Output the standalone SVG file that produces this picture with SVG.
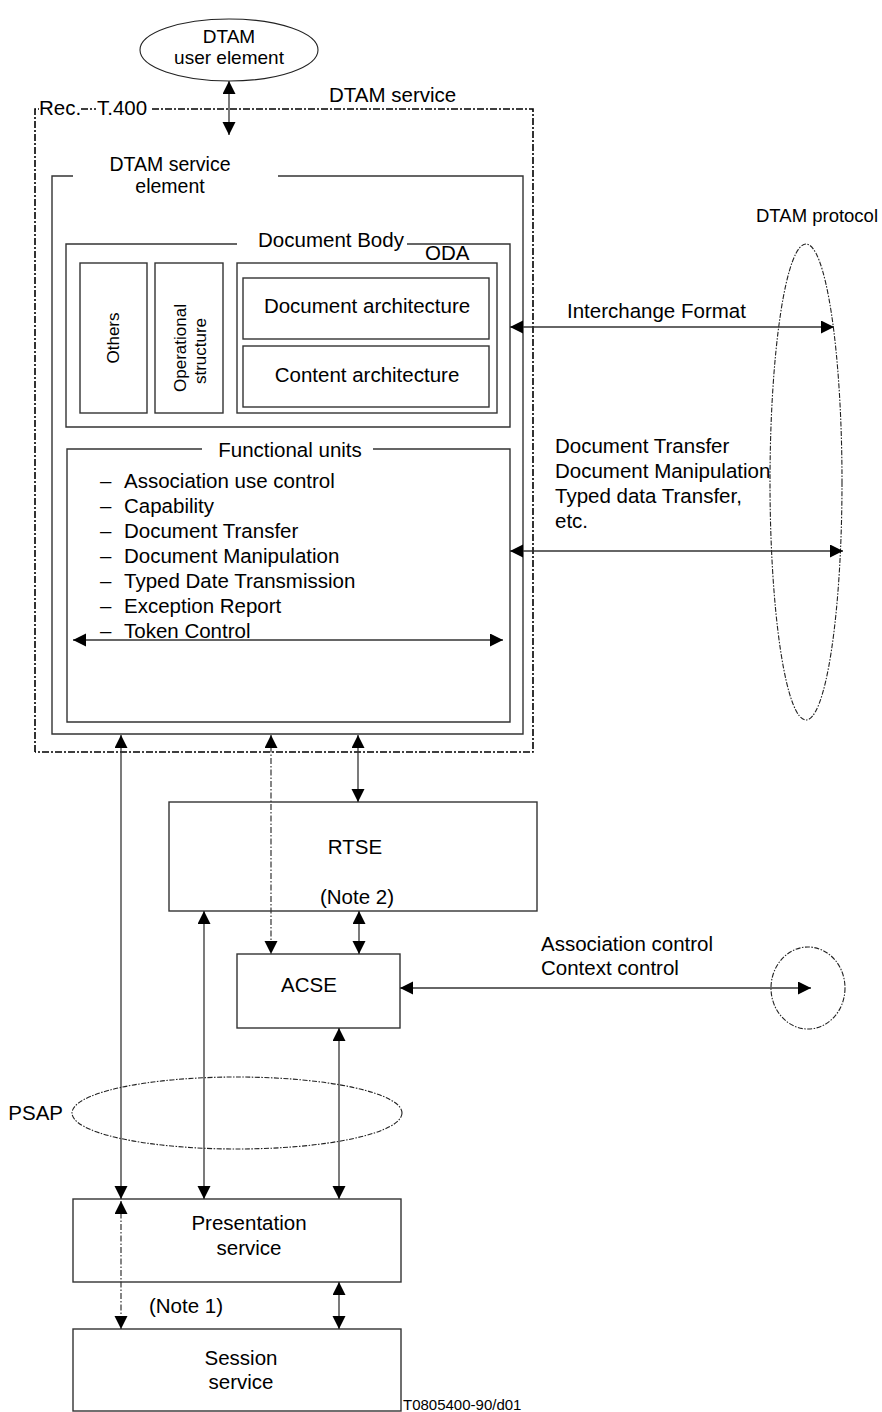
<svg xmlns="http://www.w3.org/2000/svg" width="882" height="1412" viewBox="0 0 882 1412">
<style>
text{font-family:"Liberation Sans",Arial,sans-serif;font-size:20.5px;fill:#000}
.c{text-anchor:middle}
.box{fill:none;stroke:#333;stroke-width:1.4}
.dd{fill:none;stroke:#000;stroke-width:1.6;stroke-dasharray:7 2 2 2}
.de{fill:none;stroke:#222;stroke-width:1.1;stroke-dasharray:5 1.5 1.5 1.5}
.ar{fill:none;stroke:#333;stroke-width:1.3;marker-start:url(#ah);marker-end:url(#ah)}
.ad{fill:none;stroke:#333;stroke-width:1.2;stroke-dasharray:6 2 1.5 2;marker-start:url(#ah);marker-end:url(#ah)}
</style>
<defs>
<marker id="ah" markerUnits="userSpaceOnUse" markerWidth="14" markerHeight="14" refX="13" refY="6.5" orient="auto-start-reverse">
<path d="M0,0 L13,6.5 L0,13 z" fill="#000"/>
</marker>
</defs>
<rect width="882" height="1412" fill="#fff"/>

<g id="user-element">
<ellipse cx="229" cy="50" rx="89" ry="31" fill="none" stroke="#222" stroke-width="1.1"/>
<text x="229" y="43" class="c" style="font-size:19px">DTAM</text>
<text x="229" y="64" class="c" style="font-size:19px">user element</text>
</g>

<g id="rec-t400">
<path class="dd" d="M35,752 V109 H39 M81,109 H96 M152,109 H533 V752 H35"/>
<text x="39" y="115">Rec.</text>
<text x="97" y="115">T.400</text>
<text x="329" y="102">DTAM service</text>
</g>

<g id="service-element">
<path class="box" d="M73,176 H52 V734 H523 V176 H278"/>
<text x="170" y="171" class="c" style="font-size:19.5px">DTAM service</text>
<text x="170" y="193" class="c" style="font-size:19.5px">element</text>
</g>

<g id="document-body">
<path class="box" d="M237,244 H66 V427 H510 V244 H407"/>
<text x="331" y="247" class="c">Document Body</text>
<text x="425" y="260">ODA</text>
</g>

<g id="others">
<rect class="box" x="80" y="263" width="67" height="150"/>
<text transform="translate(119,338) rotate(-90)" class="c" style="font-size:17px">Others</text>
</g>

<g id="operational-structure">
<rect class="box" x="155" y="263" width="68" height="150"/>
<text transform="translate(186,348) rotate(-90)" class="c" style="font-size:17px">Operational</text>
<text transform="translate(206,351) rotate(-90)" class="c" style="font-size:17px">structure</text>
</g>

<g id="oda">
<rect class="box" x="237" y="263" width="260" height="150"/>
</g>

<g id="document-architecture">
<rect class="box" x="243" y="278" width="246" height="61"/>
<text x="367" y="313" class="c">Document architecture</text>
</g>

<g id="content-architecture">
<rect class="box" x="243" y="346" width="246" height="61"/>
<text x="367" y="382" class="c">Content architecture</text>
</g>

<g id="functional-units">
<path class="box" d="M202,449 H67 V722 H510 V449 H373"/>
<text x="290" y="457" class="c">Functional units</text>
<text x="100" y="488">–</text><text x="124" y="488">Association use control</text>
<text x="100" y="513">–</text><text x="124" y="513">Capability</text>
<text x="100" y="538">–</text><text x="124" y="538">Document Transfer</text>
<text x="100" y="563">–</text><text x="124" y="563">Document Manipulation</text>
<text x="100" y="588">–</text><text x="124" y="588">Typed Date Transmission</text>
<text x="100" y="613">–</text><text x="124" y="613">Exception Report</text>
<text x="100" y="638">–</text><text x="124" y="638">Token Control</text>
</g>

<g id="dtam-protocol">
<ellipse class="de" cx="806" cy="482" rx="36" ry="238"/>
<text x="878" y="222" style="text-anchor:end;font-size:18.5px">DTAM protocol</text>
<text x="567" y="318">Interchange Format</text>
<text x="555" y="453">Document Transfer</text>
<text x="555" y="478">Document Manipulation</text>
<text x="555" y="503">Typed data Transfer,</text>
<text x="555" y="528">etc.</text>
</g>

<g id="rtse">
<rect class="box" x="169" y="802" width="368" height="109"/>
<text x="355" y="854" class="c">RTSE</text>
<text x="357" y="904" class="c">(Note 2)</text>
</g>

<g id="acse">
<rect class="box" x="237" y="954" width="163" height="74"/>
<text x="309" y="992" class="c">ACSE</text>
</g>

<g id="acse-protocol">
<ellipse class="de" cx="808" cy="988" rx="37" ry="41"/>
<text x="541" y="951">Association control</text>
<text x="541" y="975">Context control</text>
</g>

<g id="psap">
<ellipse class="de" cx="237" cy="1113" rx="165" ry="36"/>
<text x="63" y="1120" style="text-anchor:end">PSAP</text>
</g>

<g id="presentation">
<rect class="box" x="73" y="1199" width="328" height="83"/>
<text x="249" y="1230" class="c">Presentation</text>
<text x="249" y="1255" class="c">service</text>
</g>

<g id="session">
<rect class="box" x="73" y="1329" width="328" height="82"/>
<text x="241" y="1365" class="c">Session</text>
<text x="241" y="1389" class="c">service</text>
</g>

<text x="186" y="1313" class="c">(Note 1)</text>
<text x="403" y="1410" style="font-size:15px">T0805400-90/d01</text>

<g id="connectors">
<line class="ar" x1="229" y1="81" x2="229" y2="135"/>
<line class="ar" x1="510" y1="327" x2="834" y2="327"/>
<line class="ar" x1="510" y1="551" x2="843" y2="551"/>
<line class="ar" x1="73" y1="640" x2="503" y2="640"/>
<line class="ar" x1="121" y1="735" x2="121" y2="1199"/>
<line class="ad" x1="271" y1="735" x2="271" y2="954"/>
<line class="ar" x1="358" y1="735" x2="358" y2="802"/>
<line class="ar" x1="204" y1="911" x2="204" y2="1199"/>
<line class="ar" x1="359" y1="911" x2="359" y2="954"/>
<line class="ar" x1="400" y1="988" x2="811" y2="988"/>
<line class="ar" x1="339" y1="1028" x2="339" y2="1199"/>
<line class="ad" x1="121" y1="1201" x2="121" y2="1329"/>
<line class="ar" x1="339" y1="1282" x2="339" y2="1329"/>
</g>
</svg>
